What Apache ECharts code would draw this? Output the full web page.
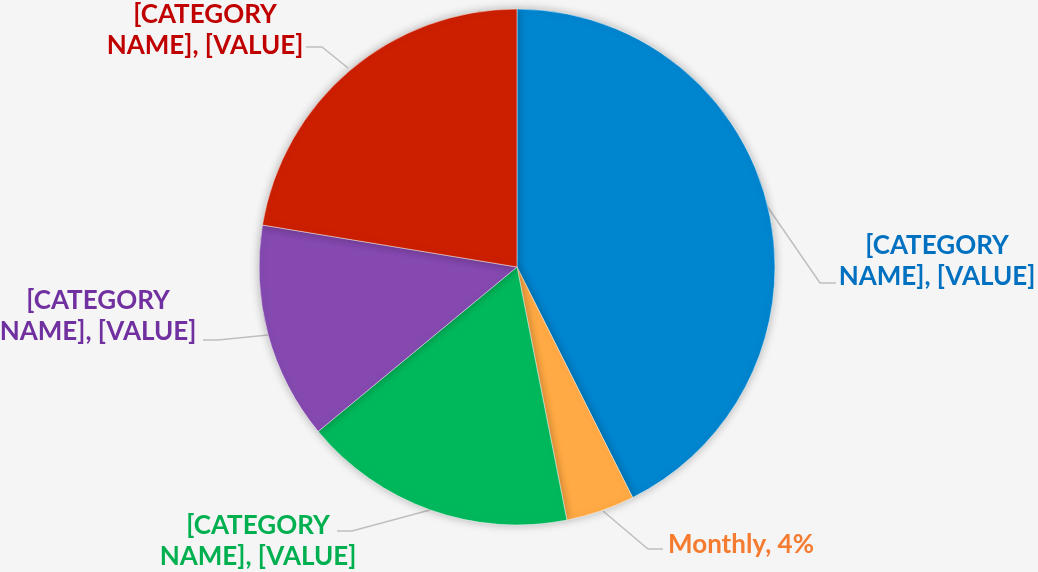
<!DOCTYPE html>
<html>
<head>
<meta charset="utf-8">
<script src="https://cdn.jsdelivr.net/npm/echarts@6/dist/echarts.min.js"></script>
<style>
    html, body { margin: 0; padding: 0; background: #f5f5f5; }
    #chart { width: 1038px; height: 572px; }
</style>
</head>
<body>
<div id="chart"></div>
<script>
// data, clockwise from 12 o'clock
var categories = ['[CATEGORY NAME]', 'Monthly', '[CATEGORY NAME]', '[CATEGORY NAME]', '[CATEGORY NAME]'];
var values = [42.6, 4.3, 17.1, 13.6, 22.4];
var labelTexts = ['[CATEGORY\nNAME], [VALUE]', 'Monthly, 4%', '[CATEGORY\nNAME], [VALUE]', '[CATEGORY\nNAME], [VALUE]', '[CATEGORY\nNAME], [VALUE]'];

var sliceColors = ['#0085cf', '#ffaa44', '#00b85c', '#8549b0', '#cc1f00'];
var textColors = ['#0070c0', '#f47b30', '#00b050', '#7030a0', '#c00000'];

// label placement (text centre) and leader line points
var labelPos = [[937, 261], [741, 545], [258, 541], [98, 316], [205, 30]];
var leaderPts = [
    [[767, 206], [820, 283], [836, 283]],
    [[603, 511], [648, 549], [663, 549]],
    [[430, 510], [352, 531], [337, 531]],
    [[268, 335], [218, 340], [203, 340]],
    [[348, 68], [322, 47], [306, 47]]
];

var chart = echarts.init(document.getElementById('chart'));

var pieData = [];
for (var i = 0; i < values.length; i++) {
    pieData.push({
        name: categories[i],
        value: values[i],
        itemStyle: { color: sliceColors[i] },
        label: { color: textColors[i], formatter: labelTexts[i] }
    });
}

var option = {
    backgroundColor: '#f5f5f5',
    animation: false,
    series: [
        {
            type: 'pie',
            center: [517, 267],
            radius: 258,
            startAngle: 90,
            clockwise: true,
            data: pieData,
            itemStyle: {
                borderColor: 'rgba(255,255,255,0.6)',
                borderWidth: 0.8,
                shadowBlur: 10,
                shadowColor: 'rgba(0,0,0,0.28)'
            },
            label: {
                show: true,
                position: 'outside',
                fontFamily: 'Lato',
                fontWeight: 'bold',
                fontSize: 26,
                lineHeight: 31,
                align: 'center'
            },
            labelLine: {
                show: true,
                lineStyle: { color: '#bfbfbf', width: 1.5 }
            },
            labelLayout: function (params) {
                var k = params.dataIndex;
                return {
                    x: labelPos[k][0],
                    y: labelPos[k][1],
                    align: 'center',
                    verticalAlign: 'middle',
                    labelLinePoints: leaderPts[k]
                };
            }
        }
    ]
};

chart.setOption(option);
</script>
</body>
</html>
